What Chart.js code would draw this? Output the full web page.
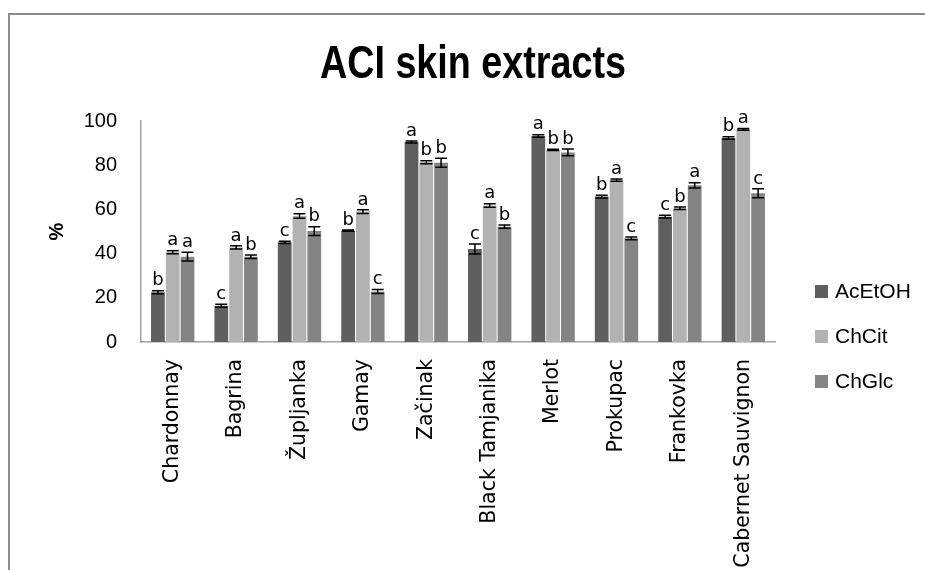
<!DOCTYPE html>
<html>
<head>
<meta charset="utf-8">
<script src="https://cdn.jsdelivr.net/npm/chart.js@4.4.1/dist/chart.umd.min.js"></script>
<style>
  html, body { margin: 0; padding: 0; background: #fff; }
  #frame {
    position: absolute; left: 8px; top: 13px;
    width: 915px; height: 555px;
    border-left: 2px solid #8c8c8c; border-top: 2px solid #8c8c8c;
  }
  #chart { display: block; }
</style>
</head>
<body>
<div id="frame"><canvas id="chart" width="915" height="555"></canvas></div>
<script>
// Cultivars (x categories)
const cultivars = ['Chardonnay', 'Bagrina', 'Župljanka', 'Gamay', 'Začinak',
    'Black Tamjanika', 'Merlot', 'Prokupac', 'Frankovka', 'Cabernet Sauvignon'];

// Series values (%)
const acEtOH = [22.5, 16.4, 45.1, 50.4, 90.5, 42.1, 93.2, 65.8, 56.7, 92.3];
const chCit  = [40.6, 42.8, 57.0, 59.0, 81.3, 61.8, 86.9, 73.2, 60.5, 96.2];
const chGlc  = [38.6, 38.6, 50.2, 22.8, 81.1, 52.2, 85.8, 46.9, 70.9, 67.3];

// Error bar half-widths
const acEtOHErr = [0.7, 0.7, 0.5, 0.3, 0.4, 2.3, 0.6, 0.6, 0.6, 0.6];
const chCitErr  = [0.7, 0.7, 1.0, 0.8, 0.7, 0.8, 0.3, 0.5, 0.6, 0.4];
const chGlcErr  = [2.0, 0.8, 2.0, 0.9, 2.0, 0.7, 1.5, 0.6, 1.2, 2.0];

// Significance letters
const acEtOHLetters = ['b', 'c', 'c', 'b', 'a', 'c', 'a', 'b', 'c', 'b'];
const chCitLetters  = ['a', 'a', 'a', 'a', 'b', 'a', 'b', 'a', 'b', 'a'];
const chGlcLetters  = ['a', 'b', 'b', 'c', 'b', 'b', 'b', 'c', 'a', 'c'];

const yTicks = [0, 20, 40, 60, 80, 100];
const chartTitle = 'ACI skin extracts';

// Barres d'erreur + lettres
const errorBarPlugin = {
    id: 'errorBars',
    afterDatasetsDraw(chart) {
        const ctx = chart.ctx;
        const yScale = chart.scales.y;
        ctx.save();
        chart.data.datasets.forEach((ds, i) => {
            const meta = chart.getDatasetMeta(i);
            meta.data.forEach((bar, j) => {
                const v = ds.data[j];
                const e = ds.errors[j];
                const top = yScale.getPixelForValue(v + e);
                const bottom = yScale.getPixelForValue(v - e);
                const half = 6;
                ctx.strokeStyle = '#000';
                ctx.lineWidth = 1.5;
                ctx.beginPath();
                ctx.moveTo(bar.x, top);
                ctx.lineTo(bar.x, bottom);
                ctx.moveTo(bar.x - half, top);
                ctx.lineTo(bar.x + half, top);
                ctx.moveTo(bar.x - half, bottom);
                ctx.lineTo(bar.x + half, bottom);
                ctx.stroke();

                ctx.fillStyle = '#000';
                ctx.font = '18px "DejaVu Sans"';
                ctx.textAlign = 'center';
                ctx.textBaseline = 'bottom';
                ctx.fillText(ds.letters[j], bar.x, top - 1);
            });
        });
        ctx.restore();
    }
};

// Titre condensé
const condensedTitlePlugin = {
    id: 'condensedTitle',
    afterDraw(chart) {
        const ctx = chart.ctx;
        ctx.save();
        ctx.translate(463, 63);
        ctx.scale(0.82, 1);
        ctx.fillStyle = '#000';
        ctx.font = 'bold 46px "Liberation Sans"';
        ctx.textAlign = 'center';
        ctx.textBaseline = 'alphabetic';
        ctx.fillText(chartTitle, 0, 0);
        ctx.restore();
    }
};

// Légende à droite
const sideLegendPlugin = {
    id: 'sideLegend',
    afterDraw(chart) {
        const ctx = chart.ctx;
        ctx.save();
        chart.data.datasets.forEach((ds, i) => {
            const y = 270 + i * 45;
            ctx.fillStyle = ds.backgroundColor;
            ctx.fillRect(805, y, 13, 13);
            ctx.fillStyle = '#000';
            ctx.font = '21px "Liberation Sans"';
            ctx.textAlign = 'left';
            ctx.textBaseline = 'middle';
            ctx.fillText(ds.label, 825, y + 7);
        });
        ctx.restore();
    }
};

new Chart(document.getElementById('chart'), {
    type: 'bar',
    data: {
        labels: cultivars,
        datasets: [
            { label: 'AcEtOH', data: acEtOH, errors: acEtOHErr, letters: acEtOHLetters, backgroundColor: '#5f5f5f' },
            { label: 'ChCit', data: chCit, errors: chCitErr, letters: chCitLetters, backgroundColor: '#b2b2b2' },
            { label: 'ChGlc', data: chGlc, errors: chGlcErr, letters: chGlcLetters, backgroundColor: '#848484' }
        ]
    },
    options: {
        responsive: false,
        animation: false,
        layout: { padding: { left: 11, right: 0, top: 106, bottom: 0 } },
        datasets: {
            bar: { categoryPercentage: 0.7, barPercentage: 0.93, borderWidth: 0 }
        },
        plugins: {
            legend: { display: false },
            tooltip: { enabled: false },
            title: { display: false }
        },
        scales: {
            x: {
                grid: { display: false, drawTicks: false },
                border: { display: true, color: '#a0a0a0', width: 1.5 },
                ticks: {
                    color: '#000',
                    font: { family: '"DejaVu Sans"', size: 20.5 },
                    minRotation: 90,
                    maxRotation: 90,
                    autoSkip: false,
                    padding: 17
                },
                afterFit(scale) { scale.height = 228; }
            },
            y: {
                min: 0,
                max: 100,
                afterBuildTicks(scale) { scale.ticks = yTicks.map(v => ({ value: v })); },
                grid: { display: false, drawTicks: false },
                border: { display: true, color: '#a0a0a0', width: 1.5 },
                ticks: {
                    color: '#000',
                    font: { family: '"Liberation Sans"', size: 20 },
                    padding: 24
                },
                title: {
                    display: true,
                    text: '%',
                    color: '#000',
                    font: { family: '"Liberation Sans"', size: 20, weight: 'bold' },
                    padding: { top: 24, bottom: 0 }
                },
                afterFit(scale) { scale.width = 120; }
            },
            yRight: {
                position: 'right',
                display: true,
                grid: { display: false, drawTicks: false },
                border: { display: false },
                ticks: { display: false },
                afterFit(scale) { scale.width = 150; }
            }
        }
    },
    plugins: [errorBarPlugin, condensedTitlePlugin, sideLegendPlugin]
});
</script>
</body>
</html>
